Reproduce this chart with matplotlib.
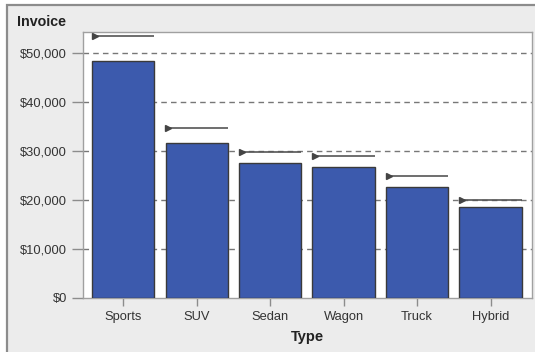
import matplotlib
matplotlib.use("Agg")
import matplotlib.pyplot as plt
from matplotlib.patches import Rectangle

plt.rcParams['font.family'] = ['Liberation Sans', 'DejaVu Sans']

types = ["Sports", "SUV", "Sedan", "Wagon", "Truck", "Hybrid"]
invoice = [48370, 31630, 27430, 26730, 22530, 18510]
msrp = [53400, 34700, 29800, 28900, 24900, 19950]
yticks = [0, 10000, 20000, 30000, 40000, 50000]
ytick_labels = ["$0", "$10,000", "$20,000", "$30,000", "$40,000", "$50,000"]

W, H = 535, 352
fig = plt.figure(figsize=(W / 100, H / 100), dpi=100, facecolor="white")

# outer panel
fig.patches.append(Rectangle((7 / W, -0.2), 1.2, 1.2 - 5 / H, transform=fig.transFigure,
                             facecolor="#ececec", edgecolor="#8c8c8c", linewidth=1.6,
                             zorder=-1))

ax = fig.add_axes([82.5 / W, 1 - 297.7 / H, (531.7 - 82.5) / W, (297.7 - 32.3) / H])
ax.set_facecolor("white")

x = list(range(len(types)))
ax.bar(x, invoice, width=0.85, color="#3c5aad", edgecolor="#3a3a3a", linewidth=1.0,
       zorder=3)

half = 0.85 / 2
for xi, v in zip(x, msrp):
    ax.plot([xi - half, xi + half], [v, v], color="#555555", linewidth=1.2,
            zorder=4, solid_capstyle="butt")
    ax.plot([xi - half + 0.04], [v], marker=">", markersize=4.5, color="#444444",
            zorder=5, linestyle="none")

ax.set_xlim(-0.555, 5.56)
ax.set_ylim(0, 54160)
ax.set_yticks(yticks)
ax.set_yticklabels(ytick_labels)
ax.set_xticks(x)
ax.set_xticklabels(types)

for yv in yticks[1:]:
    ax.axhline(yv, color="#777777", linewidth=1.0, linestyle=(0, (4, 3)), zorder=1)

for s in ax.spines.values():
    s.set_color("#a0a0a0")
    s.set_linewidth(1.0)

ax.tick_params(axis="y", length=8, width=1, color="#8c8c8c", pad=3,
               labelsize=9.3, labelcolor="#333333")
ax.tick_params(axis="x", length=5.5, width=1, color="#8c8c8c", pad=4,
               labelsize=9.3, labelcolor="#333333")

ax.set_xlabel("Type", fontsize=10.5, fontweight="bold", color="#222222", labelpad=5)
fig.text(17 / W, 1 - 22 / H, "Invoice", fontsize=10.3, fontweight="bold",
         color="#222222", ha="left", va="center")

fig.savefig("out.png", dpi=100, facecolor=fig.get_facecolor())
